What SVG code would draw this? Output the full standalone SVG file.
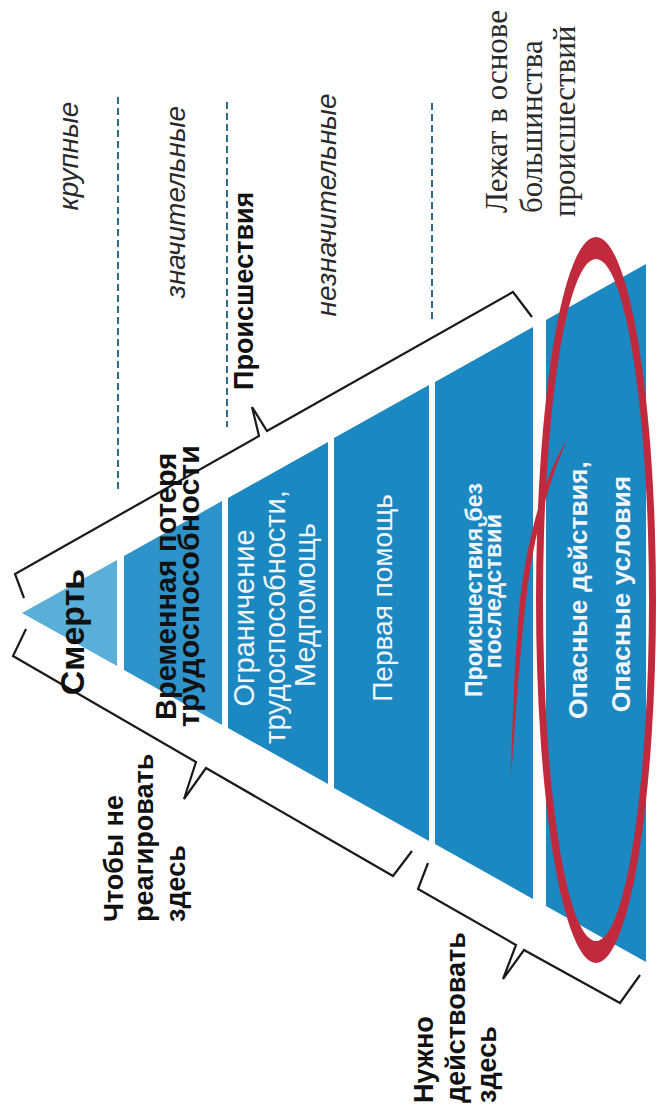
<svg xmlns="http://www.w3.org/2000/svg" width="669" height="1114" viewBox="0 0 669 1114">
<style>
.b1{fill:#5aafd8}.b2{fill:#2d93ca}.b3{fill:#1b88c2}
.br{fill:none;stroke:#1a1a1a;stroke-width:2.2;stroke-linejoin:miter}
.dash{stroke:#2b6c8c;stroke-width:2;stroke-dasharray:7 4}
.sb{font-family:"Liberation Sans",Arial,sans-serif;font-weight:bold;fill:#111}
.wb{font-family:"Liberation Sans",Arial,sans-serif;font-weight:bold;fill:#f2f6fa}
.wr{font-family:"Liberation Sans",Arial,sans-serif;fill:#f2f6fa}
.it{font-family:"Liberation Sans",Arial,sans-serif;font-style:italic;fill:#2a2a2a}
.sf{font-family:"Liberation Serif","Times New Roman",serif;fill:#2a2a2a}
.red{fill:#c12a3c}
</style>
<rect width="669" height="1114" fill="#ffffff"/>
<g id="pyramid">
<g id="band1"><polygon class="b1" points="22,613 117,560 117,666"/></g>
<g id="band2"><polygon class="b2" points="124,556 222,501 222,725 124,670"/></g>
<g id="band3"><polygon class="b3" points="228,498 328,442 328,784 228,728"/></g>
<g id="band4"><polygon class="b3" points="334,438 429,385 429,841 334,788"/></g>
<g id="band5"><polygon class="b3" points="435,382 533,327 533,899 435,844"/></g>
<g id="band6"><polygon class="b3" points="546,320 646,264 646,962 546,906"/></g>
</g>
<g id="dashes">
<line class="dash" x1="118" y1="97" x2="118" y2="493"/>
<line class="dash" x1="227" y1="102" x2="227" y2="427"/>
<line class="dash" x1="432" y1="103" x2="432" y2="323"/>
</g>
<g id="connectors">
<path class="br" d="M24,598 L15,574 L259,436 L252,407 L267,431 L513,292 L532,317"/>
<path class="br" d="M26,629 L13,656 L196,762 L184,799 L206,768 L393,876 L412,851"/>
<path class="br" d="M428,863 L418,889 L516,945 L503,979 L524,950 L620,1003 L640,975"/>
</g>
<g id="labels-band">
<g id="t-smert"><text class="sb" font-size="34" text-anchor="middle" transform="translate(84,632) rotate(-90)">Смерть</text></g>
<g id="t-vremennaya" class="sb" font-size="29">
<text transform="translate(176,720) rotate(-90)">Временная потеря</text>
<text transform="translate(199,727) rotate(-90)" textLength="282" lengthAdjust="spacingAndGlyphs">трудоспособности</text>
</g>
<g id="t-ogranichenie" class="wr" font-size="29" text-anchor="middle">
<text transform="translate(254,618) rotate(-90)">Ограничение</text>
<text transform="translate(285,617) rotate(-90)">трудоспособности,</text>
<text transform="translate(315,605) rotate(-90)">Медпомощь</text>
</g>
<g id="t-pervaya" class="wr" font-size="28" text-anchor="middle">
<text transform="translate(392,598) rotate(-90)">Первая помощь</text>
</g>
<g id="t-proisshestviya-bez" class="wb" font-size="23" text-anchor="middle">
<text transform="translate(482,590) rotate(-90)">Происшествия,без</text>
<text transform="translate(501,591) rotate(-90)" font-size="24">последствий</text>
</g>
<g id="t-opasnye" class="wb" font-size="26.5" text-anchor="middle">
<text transform="translate(587,590) rotate(-90)">Опасные действия,</text>
<text transform="translate(630,594) rotate(-90)">Опасные условия</text>
</g>
</g>
<g id="red-marks">
<path class="red" fill-rule="evenodd" d="M656,600 A60,363 0 1 1 536,600 A60,363 0 1 1 656,600 Z M649,600 A53,341 0 1 0 543,600 A53,341 0 1 0 649,600 Z"/>
<path class="red" d="M567,440 C548,468 526,535 519,610 C514,670 512,730 511,778 C515,730 519,660 526,600 C533,535 550,478 567,440 Z"/>
</g>
<g id="side-labels">
<g id="t-krupnye"><text class="it" font-size="28" text-anchor="middle" transform="translate(78,156) rotate(-90)">крупные</text></g>
<g id="t-znachitelnye"><text class="it" font-size="28" text-anchor="middle" transform="translate(185,202) rotate(-90)">значительные</text></g>
<g id="t-proisshestviya"><text class="sb" font-size="27" transform="translate(253,390) rotate(-90)">Происшествия</text></g>
<g id="t-neznachitelnye"><text class="it" font-size="28" text-anchor="middle" transform="translate(336,205) rotate(-90)">незначительные</text></g>
<g id="t-lezhat" class="sf" font-size="31">
<text transform="translate(507,213) rotate(-90)">Лежат в основе</text>
<text transform="translate(542,213) rotate(-90)">большинства</text>
<text transform="translate(575,217) rotate(-90)">происшествий</text>
</g>
<g id="t-chtoby" class="sb" font-size="27">
<text transform="translate(123,922) rotate(-90)">Чтобы не</text>
<text transform="translate(153,922) rotate(-90)">реагировать</text>
<text transform="translate(185,922) rotate(-90)">здесь</text>
</g>
<g id="t-nuzhno" class="sb" font-size="27">
<text transform="translate(433,1103) rotate(-90)">Нужно</text>
<text transform="translate(465,1103) rotate(-90)">действовать</text>
<text transform="translate(496,1103) rotate(-90)">здесь</text>
</g>
</g>
</svg>
